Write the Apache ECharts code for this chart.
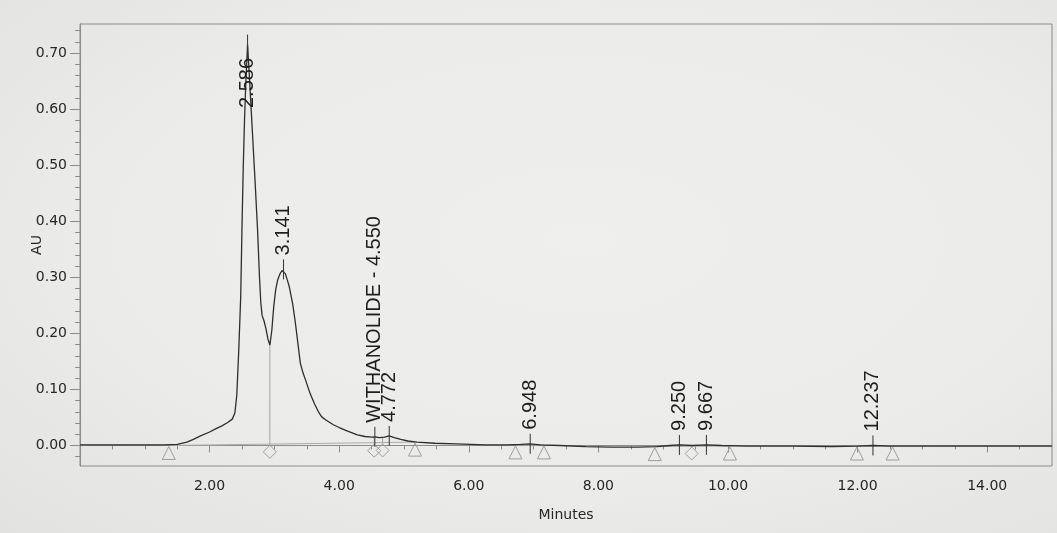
<!DOCTYPE html>
<html>
<head>
<meta charset="utf-8">
<title>Chromatogram</title>
<script src="https://cdn.jsdelivr.net/npm/echarts@6/dist/echarts.min.js"></script>
<style>
  html, body { margin: 0; padding: 0; }
  body {
    width: 1057px; height: 533px; overflow: hidden;
    background: radial-gradient(ellipse at 55% 45%, #efefed 0%, #ebebe9 60%, #e2e2e0 100%);
  }
  #chart { width: 1057px; height: 533px; }
</style>
</head>
<body>
<div id="chart"></div>
<script>
// Detector trace: retention time (minutes) and absorbance (AU)
const traceTime = [0.00,0.50,1.00,1.30,1.50,1.65,1.75,1.86,2.00,2.10,
  2.19,2.28,2.35,2.39,2.42,2.45,2.48,2.50,2.52,2.54,
  2.56,2.586,2.62,2.66,2.70,2.74,2.77,2.79,2.81,2.84,
  2.87,2.90,2.93,2.96,2.99,3.02,3.05,3.09,3.12,3.141,
  3.17,3.20,3.23,3.28,3.32,3.35,3.40,3.44,3.48,3.55,
  3.62,3.68,3.73,3.80,3.91,4.00,4.12,4.28,4.40,4.50,
  4.55,4.62,4.70,4.772,4.85,4.95,5.06,5.20,5.48,5.80,
  6.26,6.60,6.80,6.948,7.10,7.40,7.80,8.20,8.60,8.90,
  9.10,9.25,9.45,9.667,9.90,10.30,11.00,11.60,12.00,12.237,
  12.50,13.20,14.00,15.00];
const traceAU = [0.001,0.001,0.001,0.001,0.002,0.006,0.011,0.017,0.024,0.030,
  0.035,0.041,0.047,0.058,0.090,0.170,0.265,0.390,0.500,0.585,
  0.650,0.715,0.645,0.560,0.475,0.385,0.300,0.255,0.232,0.222,
  0.208,0.190,0.179,0.205,0.248,0.278,0.295,0.307,0.312,0.314,
  0.306,0.295,0.283,0.254,0.222,0.194,0.147,0.130,0.117,0.093,
  0.074,0.060,0.051,0.045,0.037,0.032,0.026,0.019,0.016,0.015,
  0.0155,0.014,0.015,0.017,0.014,0.011,0.008,0.006,0.004,0.003,
  0.001,0.001,0.002,0.003,0.001,0.000,-0.002,-0.003,-0.003,-0.002,
  0.000,0.001,0.000,0.001,0.000,-0.001,-0.001,-0.002,-0.001,0.000,
  -0.001,-0.001,-0.001,-0.001];

// Integrated peaks: retention times and their annotation text
const peakTimes = [2.586, 3.141, 4.550, 4.772, 6.948, 9.250, 9.667, 12.237];
const peakNames = ['2.586', '3.141', 'WITHANOLIDE - 4.550', '4.772', '6.948', '9.250', '9.667', '12.237'];

// Integration start/end events (triangle = baseline, diamond = valley drop)
const eventTimes  = [1.37, 2.93, 4.54, 4.67, 5.17, 6.72, 7.16, 8.87, 9.44, 10.03, 11.99, 12.54];
const eventKinds  = ['tri','dia','dia','dia','tri','tri','tri','tri','dia','tri','tri','tri'];
const eventLevels = [0.000, 0.002, 0.004, 0.0045, 0.006, 0.001, 0.001, -0.002, -0.001, -0.001, -0.001, -0.001];
// Baseline runs, as [first event, last event]
const baselineRuns = [[0, 4], [5, 6], [7, 9], [10, 11]];

// Axis ticks
const xLabelTicks = [2, 4, 6, 8, 10, 12, 14];
const yLabelTicks = [0.00, 0.10, 0.20, 0.30, 0.40, 0.50, 0.60, 0.70];
const xRange = [0, 15];
const yRange = [-0.0366, 0.7517];

function stepValues(from, to, step) {
  const out = [];
  const n = Math.round((to - from) / step);
  for (let i = 0; i <= n; i++) out.push(+(from + i * step).toFixed(4));
  return out;
}
const xMinorTicks = stepValues(0.5, 14.5, 0.5);
const yMinorTicks = stepValues(-0.02, 0.74, 0.02);

function traceAt(t) {
  for (let i = 1; i < traceTime.length; i++) {
    if (t <= traceTime[i]) {
      const a = traceTime[i - 1], b = traceTime[i];
      const f = (t - a) / (b - a);
      return traceAU[i - 1] + f * (traceAU[i] - traceAU[i - 1]);
    }
  }
  return traceAU[traceAU.length - 1];
}

const measureCtx = document.createElement('canvas').getContext('2d');
const PEAK_FONT = '20px "Liberation Sans", Arial, sans-serif';
measureCtx.font = PEAK_FONT;

const axisGray = '#8c8c8c';
const labelStyle = { color: '#262626', fontFamily: 'DejaVu Sans', fontSize: 14 };

const chart = echarts.init(document.getElementById('chart'), null, { renderer: 'canvas' });

const option = {
  backgroundColor: 'transparent',
  animation: false,
  grid: {
    left: 80, right: 5, top: 24, bottom: 67,
    show: true, borderColor: axisGray, borderWidth: 1, backgroundColor: 'transparent'
  },
  xAxis: [
    {
      type: 'value', min: xRange[0], max: xRange[1], position: 'bottom',
      name: 'Minutes', nameLocation: 'middle', nameGap: 42, nameMoveOverlap: false,
      nameTextStyle: labelStyle,
      axisLine: { show: true, lineStyle: { color: axisGray, width: 1 } },
      axisTick: { show: true, customValues: xMinorTicks, length: 4, lineStyle: { color: axisGray } },
      axisLabel: { show: true, customValues: xLabelTicks, margin: 13,
        formatter: v => v.toFixed(2), ...labelStyle },
      splitLine: { show: false }
    },
    {
      type: 'value', min: xRange[0], max: xRange[1], position: 'bottom', offset: 0,
      axisLine: { show: false },
      axisTick: { show: true, customValues: xLabelTicks, length: 7, lineStyle: { color: axisGray } },
      axisLabel: { show: false },
      splitLine: { show: false }
    }
  ],
  yAxis: [
    {
      type: 'value', min: yRange[0], max: yRange[1], position: 'left',
      name: 'AU', nameLocation: 'middle', nameGap: 36, nameRotate: 90, nameMoveOverlap: false,
      nameTextStyle: labelStyle,
      axisLine: { show: true, lineStyle: { color: axisGray, width: 1 } },
      axisTick: { show: true, customValues: yMinorTicks, length: 5, lineStyle: { color: axisGray } },
      axisLabel: { show: true, customValues: yLabelTicks, margin: 13,
        formatter: v => v.toFixed(2), ...labelStyle },
      splitLine: { show: false }
    },
    {
      type: 'value', min: yRange[0], max: yRange[1], position: 'left', offset: 0,
      axisLine: { show: false },
      axisTick: { show: true, customValues: yLabelTicks, length: 10, lineStyle: { color: axisGray } },
      axisLabel: { show: false },
      splitLine: { show: false }
    }
  ],
  series: [
    // integration baselines
    {
      type: 'custom', xAxisIndex: 0, yAxisIndex: 0, z: 2, silent: true,
      data: baselineRuns.map(r => [eventTimes[r[0]], eventLevels[r[0]], eventTimes[r[1]], eventLevels[r[1]]]),
      renderItem(params, api) {
        const a = api.coord([api.value(0), api.value(1)]);
        const b = api.coord([api.value(2), api.value(3)]);
        return { type: 'line', shape: { x1: a[0], y1: a[1], x2: b[0], y2: b[1] },
          style: { stroke: '#ababab', lineWidth: 1, fill: null } };
      }
    },
    // integration event markers and valley drop lines
    {
      type: 'custom', xAxisIndex: 0, yAxisIndex: 0, z: 2, silent: true,
      data: eventTimes.map((t, i) => [t, eventLevels[i], eventKinds[i] === 'dia' ? traceAt(t) : eventLevels[i]]),
      renderItem(params, api) {
        const p = api.coord([api.value(0), api.value(1)]);
        const top = api.coord([api.value(0), api.value(2)]);
        const kind = eventKinds[params.dataIndex];
        const x = p[0], y = p[1];
        const children = [];
        const shapeStyle = { stroke: '#9e9e9e', lineWidth: 1, fill: null };
        if (kind === 'tri') {
          children.push({ type: 'polygon',
            shape: { points: [[x, y + 1], [x - 6.5, y + 14], [x + 6.5, y + 14]] }, style: shapeStyle });
        } else {
          children.push({ type: 'line', shape: { x1: x, y1: top[1], x2: x, y2: y + 1 },
            style: { stroke: '#a4a4a4', lineWidth: 1 } });
          children.push({ type: 'polygon',
            shape: { points: [[x, y + 1], [x + 6.5, y + 7.5], [x, y + 14], [x - 6.5, y + 7.5]] }, style: shapeStyle });
        }
        return { type: 'group', children };
      }
    },
    // detector signal
    {
      type: 'line', xAxisIndex: 0, yAxisIndex: 0, z: 3,
      data: traceTime.map((t, i) => [t, traceAU[i]]),
      showSymbol: false, symbol: 'none', smooth: false,
      lineStyle: { color: '#2e2e2e', width: 1.3 }
    },
    // peak apex ticks and retention-time annotations
    {
      type: 'custom', xAxisIndex: 0, yAxisIndex: 0, z: 4, silent: true, clip: false,
      data: peakTimes.map(t => [t, traceAt(t)]),
      renderItem(params, api) {
        const p = api.coord([api.value(0), api.value(1)]);
        const text = peakNames[params.dataIndex];
        const len = measureCtx.measureText(text).width;
        let bottom = p[1] - 14;
        const minTop = params.coordSys.y + 34;
        if (bottom - len < minTop) bottom = minTop + len;
        return {
          type: 'group',
          children: [
            { type: 'line', shape: { x1: p[0], y1: p[1] - 10, x2: p[0], y2: p[1] + 10 },
              style: { stroke: '#333', lineWidth: 1 } },
            { type: 'text', x: p[0], y: bottom, rotation: Math.PI / 2,
              style: { text, font: PEAK_FONT, fill: '#1e1e1e', align: 'left', verticalAlign: 'middle' } }
          ]
        };
      }
    }
  ]
};

chart.setOption(option);
</script>
</body>
</html>
